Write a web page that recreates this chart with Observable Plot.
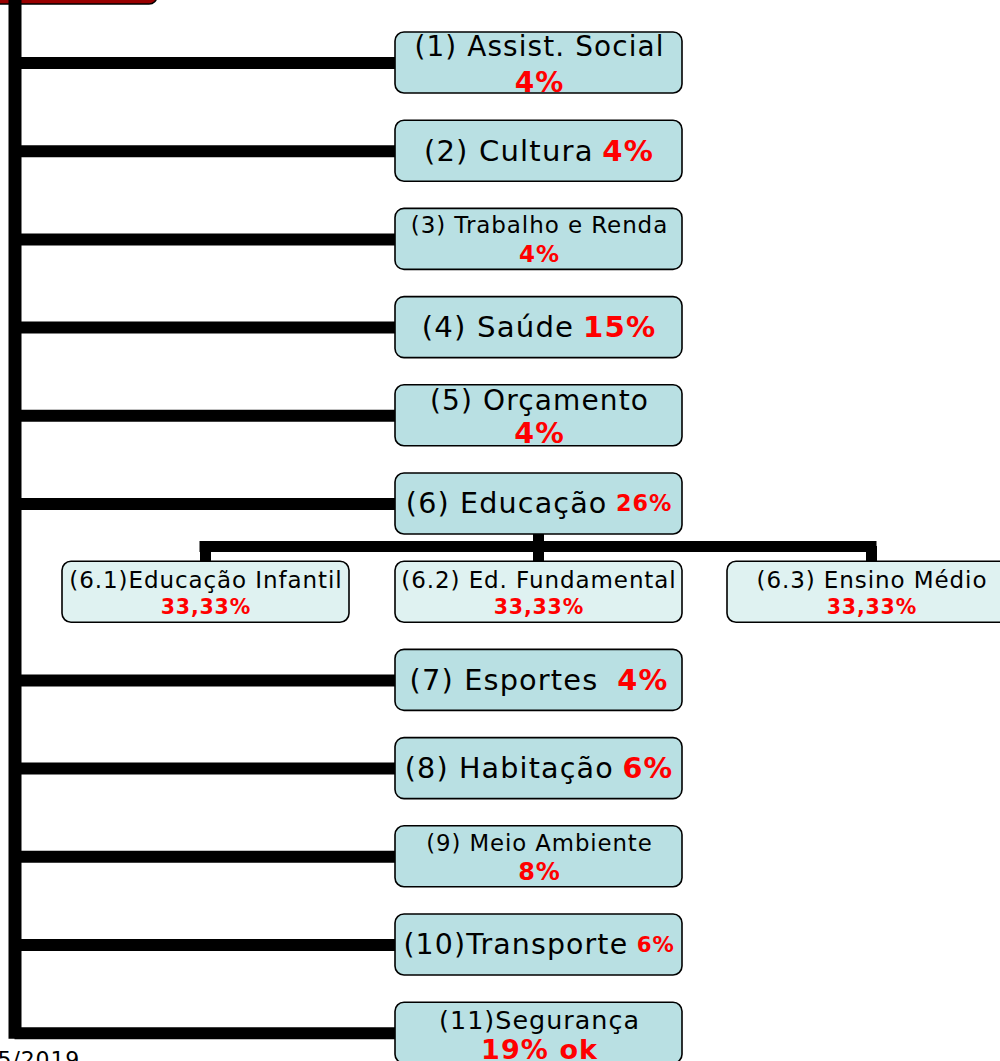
<!DOCTYPE html>
<html>
<head>
<meta charset="utf-8">
<script src="https://cdn.jsdelivr.net/npm/d3@7"></script>
<script src="https://cdn.jsdelivr.net/npm/@observablehq/plot@0.6"></script>
<style>
  html, body { margin: 0; padding: 0; background: #fff; overflow: hidden; }
  #chart svg { overflow: hidden; display: block; }
  #chart text { letter-spacing: 0.04em; }
</style>
</head>
<body>
<div id="chart"></div>
<script>
// ---- data ----
const labels = ["(1) Assist. Social", "(2) Cultura", "(3) Trabalho e Renda", "(4) Saúde", "(5) Orçamento",
                "(6) Educação", "(7) Esportes ", "(8) Habitação", "(9) Meio Ambiente", "(10)Transporte", "(11)Segurança"];
const pcts = ["4%", "4%", "4%", "15%", "4%", "26%", "4%", "6%", "8%", "6%", "19% ok"];
const subLabels = ["(6.1)Educação Infantil", "(6.2) Ed. Fundamental", "(6.3) Ensino Médio"];
const subPcts = ["33,33%", "33,33%", "33,33%"];
const footer = "5/2019";

// ---- styles (layout, font sizes) ----
const mainStyle = [
  {mode: "stack", ls: 27.9, ps: 28, ly: 15, py: 51},
  {mode: "inline", ls: 29.1, ps: 29.1},
  {mode: "stack", ls: 23, ps: 23, ly: 17, py: 46},
  {mode: "inline", ls: 29.2, ps: 29.2},
  {mode: "stack", ls: 28, ps: 28.5, ly: 16, py: 49},
  {mode: "inline", ls: 28.6, ps: 22.3},
  {mode: "inline", ls: 28.8, ps: 28.8},
  {mode: "inline", ls: 28.6, ps: 28.6},
  {mode: "stack", ls: 22.8, ps: 24, ly: 17, py: 46},
  {mode: "inline", ls: 28.4, ps: 21.3},
  {mode: "stack", ls: 25.4, ps: 27, ly: 18, py: 48}
];
const subStyle = {ls: 23, ps: 20.5, ly: 19, py: 46};
const LS = 0.04; // letter spacing in em

const FONT = '"DejaVu Sans", Verdana, sans-serif';
const ctx = document.createElement("canvas").getContext("2d");
function tw(text, size, bold) {
  ctx.font = `${bold ? "bold " : ""}${size}px ${FONT}`;
  return ctx.measureText(text).width + LS * size * text.length;
}

// ---- layout ----
const rowStep = 88.2, rowTop0 = 32, boxH = 61;
const boxX1 = 395, boxX2 = 682, trunkX = 14.5;
const rowOf = i => (i < 6 ? i : i + 1); // sub-row occupies slot 6
const boxes = labels.map((l, i) => {
  const top = rowTop0 + rowOf(i) * rowStep;
  return {x1: boxX1, x2: boxX2, y1: top, y2: top + boxH, cy: top + boxH / 2, i};
});
const dropX = [205, 538, 871];
const subX = [[62, 349], [395, 682], [727, 1015]];
const subTop = rowTop0 + 6 * rowStep;
const subBoxes = subX.map(([a, b], j) => ({x1: a, x2: b, y1: subTop, y2: subTop + boxH, cx: dropX[j]}));

const normalTexts = [], boldTexts = [];
boxes.forEach((b, i) => {
  const s = mainStyle[i];
  const cx = (b.x1 + b.x2) / 2;
  if (s.mode === "inline") {
    const gap = s.ls * 0.3;
    const wl = tw(labels[i], s.ls, false), wp = tw(pcts[i], s.ps, true);
    const start = cx - (wl + gap + wp) / 2;
    normalTexts.push({x: start, y: b.cy, t: labels[i], s: s.ls, a: "start"});
    boldTexts.push({x: start + wl + gap, y: b.cy, t: pcts[i], s: s.ps, a: "start"});
  } else {
    normalTexts.push({x: cx + LS * s.ls / 2, y: b.y1 + s.ly, t: labels[i], s: s.ls, a: "middle"});
    boldTexts.push({x: cx + LS * s.ps / 2, y: b.y1 + s.py, t: pcts[i], s: s.ps, a: "middle"});
  }
});
subBoxes.forEach((b, j) => {
  normalTexts.push({x: b.cx + LS * subStyle.ls / 2, y: b.y1 + subStyle.ly, t: subLabels[j], s: subStyle.ls, a: "middle"});
  boldTexts.push({x: b.cx + LS * subStyle.ps / 2, y: b.y1 + subStyle.py, t: subPcts[j], s: subStyle.ps, a: "middle"});
});

const lastCy = boxes[boxes.length - 1].cy;
const branches = boxes.map(b => ({x1: trunkX, x2: b.x1, y: b.cy}));
const edu = boxes[5];
const busY = 546;

const plot = Plot.plot({
  width: 1000, height: 1061,
  margin: 0,
  x: {domain: [0, 1000], range: [0, 1000], axis: null},
  y: {domain: [0, 1061], range: [0, 1061], axis: null},
  style: {background: "#fff", fontFamily: FONT},
  marks: [
    // header box (cut off at top)
    Plot.rect([{x1: -20, x2: 157, y1: -40, y2: 4}], {x1: "x1", x2: "x2", y1: "y1", y2: "y2", fill: "#990000", stroke: "#000", strokeWidth: 1.5, rx: 8}),
    // trunk
    Plot.ruleX([trunkX], {y1: 0, y2: lastCy + 6, stroke: "#000", strokeWidth: 13}),
    // branches
    Plot.ruleY(branches, {y: "y", x1: "x1", x2: "x2", stroke: "#000", strokeWidth: 12}),
    // education sub-connectors
    Plot.ruleX([538], {y1: edu.y2, y2: busY, stroke: "#000", strokeWidth: 11}),
    Plot.ruleY([busY], {x1: dropX[0] - 5.5, x2: dropX[2] + 5.5, stroke: "#000", strokeWidth: 11}),
    Plot.ruleX(dropX, {y1: busY, y2: subTop, stroke: "#000", strokeWidth: 11}),
    // boxes
    Plot.rect(boxes, {x1: "x1", x2: "x2", y1: "y1", y2: "y2", fill: "#b9e0e3", stroke: "#000", strokeWidth: 1.6, rx: 9}),
    Plot.rect(subBoxes, {x1: "x1", x2: "x2", y1: "y1", y2: "y2", fill: "#dff2f1", stroke: "#000", strokeWidth: 1.6, rx: 9}),
    // texts
    Plot.text(normalTexts.filter(d => d.a === "middle"), {x: "x", y: "y", text: "t", fontSize: "s", fill: "#000", textAnchor: "middle", lineAnchor: "middle"}),
    Plot.text(normalTexts.filter(d => d.a === "start"), {x: "x", y: "y", text: "t", fontSize: "s", fill: "#000", textAnchor: "start", lineAnchor: "middle"}),
    Plot.text(boldTexts.filter(d => d.a === "middle"), {x: "x", y: "y", text: "t", fontSize: "s", fill: "#ff0000", fontWeight: "bold", textAnchor: "middle", lineAnchor: "middle"}),
    Plot.text(boldTexts.filter(d => d.a === "start"), {x: "x", y: "y", text: "t", fontSize: "s", fill: "#ff0000", fontWeight: "bold", textAnchor: "start", lineAnchor: "middle"}),
    // footer date (cut off at the page edge, as in the original)
    Plot.text([footer], {x: -3, y: 1059, text: d => d, fontSize: 22, fill: "#000", textAnchor: "start", lineAnchor: "middle"})
  ]
});
document.getElementById("chart").appendChild(plot);
</script>
</body>
</html>
